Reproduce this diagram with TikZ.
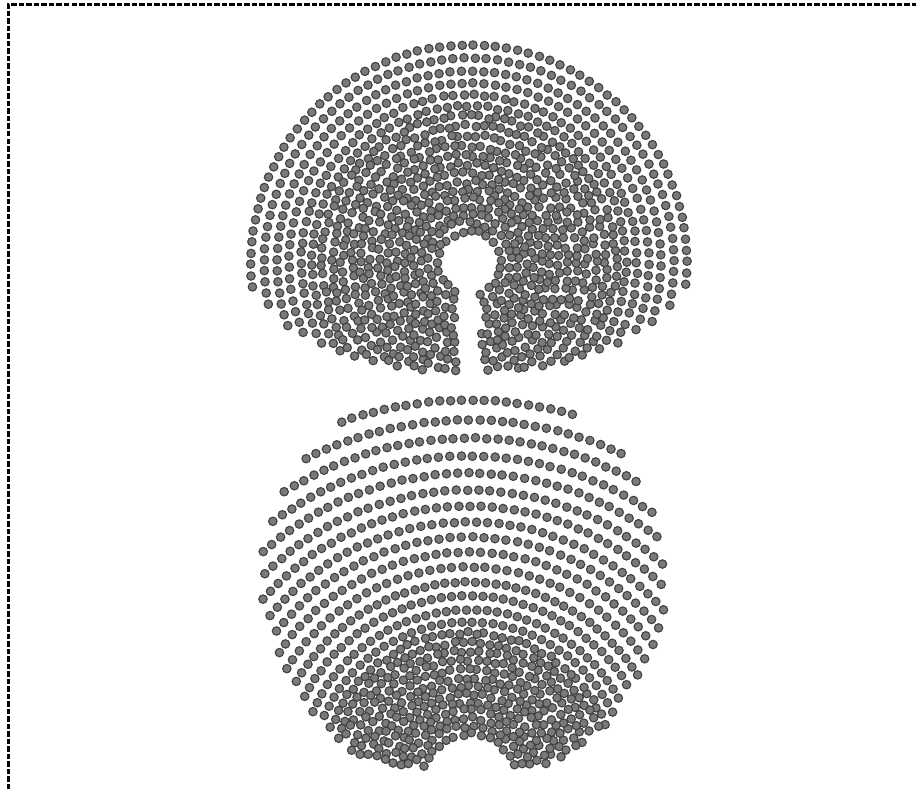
\documentclass[tikz,border=0pt]{standalone}
\tikzset{
  dot/.style={fill={rgb,255:red,122;green,122;blue,122}, draw={rgb,255:red,66;green,66;blue,66}, line width=1.15pt},
  frameline/.style={line width=3pt, dash pattern=on 5.5pt off 2pt, black},
}
\begin{document}
\begin{tikzpicture}[x=1pt,y=-1pt]
\useasboundingbox (0,0) rectangle (916,789);
\draw[frameline] (8,789) -- (8,5) -- (916,5);
\pgfmathsetseed{4711}
% ---------- upper fan (centre 469,263) ----------
\foreach \r in {218,205,192,180,168,157,147,137,127,117,108,99,90,81,73,65,57,49,41,32} {
  \pgfmathsetmacro\ds{\r<150 ? 8.7 : (\r<175 ? 10.3 : 11.2)}
  \pgfmathsetmacro\jit{\r<150 ? 1.9 : (\r<175 ? 1.0 : 0.4)}
  \pgfmathtruncatemacro\n{round(2*pi*\r/\ds)}
  \pgfmathsetmacro\stp{360/\n}
  \pgfmathsetmacro\ph{rnd*360}
  \foreach \k in {1,...,\n} {
    \pgfmathsetmacro\t{\ph+\stp*\k}
    \pgfmathsetmacro\sx{469+\r*cos(\t)+\jit*rand}
    \pgfmathsetmacro\sy{263-\r*sin(\t)+\jit*rand}
    \pgfmathsetmacro\u{(\sx-469)/222}
    \pgfmathsetmacro\v{(\sy-263)/112}
    \pgfmathtruncatemacro\ok{(\sy<=263) || ((\u*\u+\v*\v<=1) && (abs(\sx-469)>=11))}
    \ifnum\ok=1
      \filldraw[dot] (\sx,\sy) circle[radius=4.2pt];
    \fi
  }
}
% ---------- lower fan (centre 469,781) ----------
\foreach \r in {381,361,343,325,308,291,275,259,244,229,214,199,185,171,159,148,139,130,121,112,103,95,87,79,71,63,55,47} {
  \pgfmathsetmacro\ds{\r<150 ? 8.8 : (\r<200 ? 10.3 : 11.2)}
  \pgfmathsetmacro\jit{\r<150 ? 1.6 : 0.4}
  \pgfmathtruncatemacro\n{round(230*pi/180*\r/\ds)}
  \pgfmathsetmacro\stp{230/\n}
  \pgfmathsetmacro\ph{rnd*\stp}
  \foreach \k in {0,...,\n} {
    \pgfmathsetmacro\t{-25+\ph+\stp*\k}
    \pgfmathsetmacro\sx{469+\r*cos(\t)+\jit*rand}
    \pgfmathsetmacro\sy{781-\r*sin(\t)+\jit*rand}
    \pgfmathsetmacro\u{(\sx-464)/203}
    \pgfmathsetmacro\v{(\sy-572)/(\sy<572 ? 188 : 214)}
    \pgfmathtruncatemacro\ok{(\u*\u+\v*\v<=1) && (\sy<=767)}
    \ifnum\ok=1
      \filldraw[dot] (\sx,\sy) circle[radius=4.2pt];
    \fi
  }
}
\end{tikzpicture}
\end{document}
